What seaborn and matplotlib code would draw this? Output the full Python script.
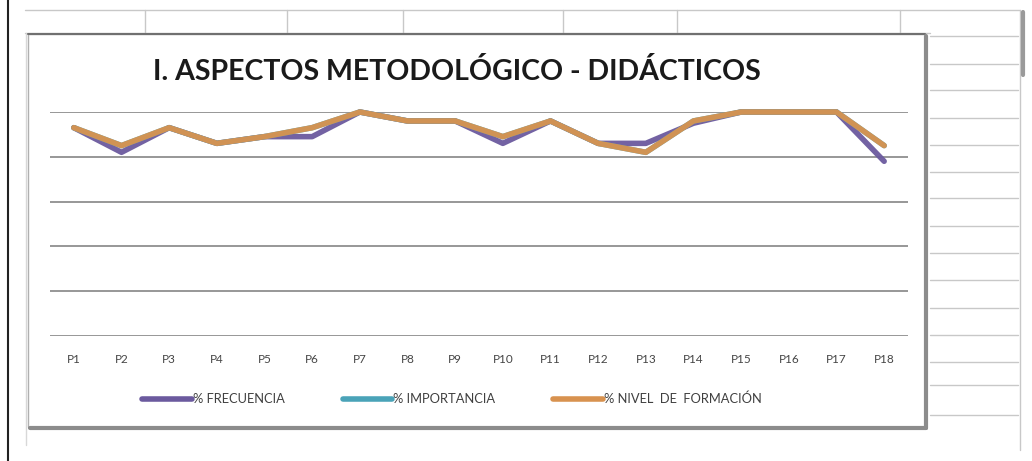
import pandas as pd
import seaborn as sns
import matplotlib.pyplot as plt
from matplotlib.lines import Line2D
from matplotlib.patches import Rectangle

# Data (percent, 0-100)
preguntas = [f"P{i}" for i in range(1, 19)]
frecuencia = [93, 82, 93, 86, 89, 89, 100, 96, 96, 86, 96, 86, 86, 95, 100, 100, 100, 78]
importancia = [93, 85, 93, 86, 89, 93, 100, 96, 96, 89, 96, 86, 82, 96, 100, 100, 100, 85]
formacion = [93, 85, 93, 86, 89, 93, 100, 96, 96, 89, 96, 86, 82, 96, 100, 100, 100, 85]

series_names = ["% FRECUENCIA", "% IMPORTANCIA", "% NIVEL  DE  FORMACIÓN"]
colors = ["#6b5a9e", "#4aa3b8", "#d8924f"]

df = pd.DataFrame({
    "pregunta": preguntas * 3,
    "valor": frecuencia + importancia + formacion,
    "serie": [series_names[0]] * 18 + [series_names[1]] * 18 + [series_names[2]] * 18,
})
df["x"] = list(range(18)) * 3

sns.set_theme(style="white")
plt.rcParams['font.family'] = ['Lato', 'DejaVu Sans']

W, H = 1032, 461
fig = plt.figure(figsize=(W / 100, H / 100), dpi=100)
fig.patch.set_facecolor("white")


def fx(px):
    return px / W


def fy(py):
    return 1 - py / H


def fline(x0, y0, x1, y1, color="#c8c8c8", lw=1.0):
    fig.add_artist(Line2D([fx(x0), fx(x1)], [fy(y0), fy(y1)], color=color, lw=lw,
                          transform=fig.transFigure))


# --- spreadsheet background ---
fline(8, 0, 8, 461, color="#222222", lw=1.5)
fline(25, 10, 1020, 10)
fline(25, 33, 930, 33)
for xv in [145, 287, 403, 563, 677, 900]:
    fline(xv, 10, xv, 33)
fline(1020, 10, 1020, 450)
fline(1023, 12, 1023, 75, color="#9a9a9a", lw=3)
for yv in [36, 64, 90, 118, 145, 172, 198, 226, 253, 280, 308, 335, 362, 385, 415]:
    fline(930, yv, 1018, yv)
fline(26, 33, 26, 445, color="#d8d8d8")

# --- chart area box with shadow ---
fig.add_artist(Rectangle((fx(28), fy(427)), fx(925) - fx(28), fy(34) - fy(427),
                         facecolor="white", edgecolor="#b0b0b0", lw=1,
                         transform=fig.transFigure, zorder=0))
fline(28, 34, 925, 34, color="#707070", lw=1.5)
fline(926, 36, 926, 428, color="#8c8c8c", lw=3)
fline(30, 428, 926, 428, color="#8c8c8c", lw=3)

# --- plot axes ---
ax = fig.add_axes([fx(50), fy(336), fx(908) - fx(50), fy(112) - fy(336)])
ax.set_facecolor("none")
sns.lineplot(data=df, x="x", y="valor", hue="serie", palette=colors,
             hue_order=series_names, linewidth=4, ax=ax, legend=False)
ax.set_xlim(-0.5, 17.5)
ax.set_ylim(0, 100)
ax.set_yticks([0, 20, 40, 60, 80, 100])
ax.yaxis.grid(True, color="#7a7a7a", lw=1.1)
ax.set_axisbelow(True)
ax.set_yticklabels([])
ax.tick_params(axis="y", length=0)
ax.set_xticks(range(18))
ax.set_xticklabels(preguntas, fontsize=8.5, color="#454545")
ax.tick_params(axis="x", length=0, pad=13)
ax.set_xlabel("")
ax.set_ylabel("")
for s in ax.spines.values():
    s.set_visible(False)
for line in ax.get_lines():
    line.set_clip_on(False)
    line.set_alpha(0.95)

# --- title ---
fig.text(fx(457), fy(72), "I. ASPECTOS METODOLÓGICO - DIDÁCTICOS", ha="center", va="center",
         fontsize=20.5, fontweight="bold", color="#1a1a1a")

# --- legend ---
handles = [Line2D([0], [0], color=c, lw=4) for c in colors]
fig.legend(handles, series_names, loc="center", bbox_to_anchor=(fx(452), fy(399)),
           ncol=3, frameon=False, fontsize=9.3, handlelength=3.8, handletextpad=0.1,
           columnspacing=4.5, labelcolor="#404040")

fig.savefig("out.png", dpi=100)
